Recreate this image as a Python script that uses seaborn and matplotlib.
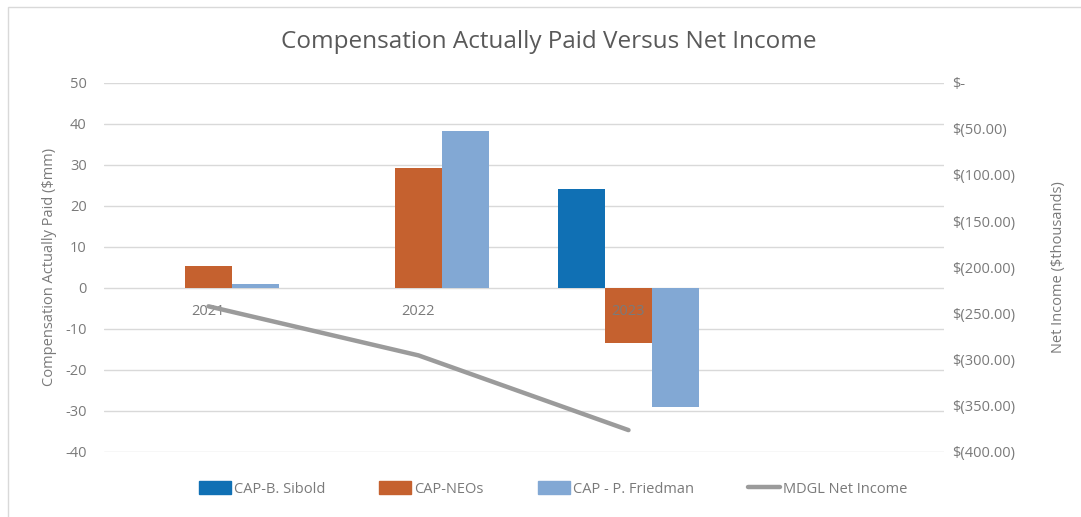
import matplotlib
matplotlib.use("Agg")
import matplotlib.pyplot as plt
import matplotlib.ticker as mticker
from matplotlib.patches import Rectangle
from matplotlib.lines import Line2D
import seaborn as sns
import pandas as pd
import numpy as np

years = ["2021", "2022", "2023"]
cap_sibold = [0.0, 0.0, 24.0]
cap_neos = [5.3, 29.3, -13.4]
cap_friedman = [0.8, 38.1, -29.1]
net_income = [-242.4, -295.6, -376.6]
series_names = ["CAP-B. Sibold", "CAP-NEOs", "CAP - P. Friedman"]
line_name = "MDGL Net Income"
colors = ["#1070B4", "#C5612F", "#82A8D4"]
line_color = "#9B9B9B"
text_color = "#7A7A7A"

sns.set_theme(style="white")
plt.rcParams["font.family"] = ["Open Sans", "DejaVu Sans"]
plt.rcParams["axes.unicode_minus"] = False

df = pd.DataFrame({
    "year": years * 3,
    "series": sum([[s] * 3 for s in series_names], []),
    "value": cap_sibold + cap_neos + cap_friedman,
})

fig = plt.figure(figsize=(10.81, 5.17), dpi=100)
ax = fig.add_axes([103.5 / 1081, 1 - 451.7 / 517, 840 / 1081, 369 / 517])

sns.barplot(data=df, x="year", y="value", hue="series", order=years,
            hue_order=series_names, palette=colors, width=0.67, gap=0,
            linewidth=0, saturation=1, ax=ax, legend=False, zorder=2)

ax.set_xlim(-0.5, 3.5)
ax.set_ylim(-40, 50)
ax.set_yticks(np.arange(-40, 51, 10))
ax.yaxis.grid(True, color="#D9D9D9", linewidth=1)
ax.set_axisbelow(True)
for s in ax.spines.values():
    s.set_visible(False)
ax.tick_params(axis="x", length=0, labelbottom=False)
ax.tick_params(axis="y", length=0, pad=12, labelsize=10.5, labelcolor=text_color)
ax.set_xlabel("")
ax.set_ylabel("Compensation Actually Paid ($mm)", color=text_color, fontsize=10.5, labelpad=6)

ax2 = ax.twinx()
sns.lineplot(x=np.arange(len(years)), y=net_income, ax=ax2, color=line_color,
             linewidth=3.2, zorder=3)
ax2.set_ylim(-400, 0)
ax2.set_yticks(np.arange(-400, 1, 50))

def fmt(v, pos):
    if abs(v) < 1e-9:
        return "$-"
    return "$({:.2f})".format(abs(v))

ax2.yaxis.set_major_formatter(mticker.FuncFormatter(fmt))
ax2.tick_params(axis="y", length=0, pad=6, labelsize=10.5, labelcolor=text_color)
for s in ax2.spines.values():
    s.set_visible(False)
ax2.set_ylabel("Net Income ($thousands)", color=text_color, fontsize=10.5, labelpad=26)
ax2.grid(False)

# category labels sit at the zero line of the left axis, drawn above the bars
ax2.xaxis.set_visible(True)
ax2.spines["bottom"].set_position(("axes", 40 / 90))
ax2.set_xticks(np.arange(len(years)))
ax2.set_xticklabels(years)
ax2.set_xlim(-0.5, 3.5)
ax2.tick_params(axis="x", length=0, pad=12, labelbottom=True, labelsize=10.5,
                labelcolor=text_color)

fig.text(549 / 1081, 1 - 42 / 517, "Compensation Actually Paid Versus Net Income",
         ha="center", va="center", fontsize=17.5, color="#595959")

handles = [Rectangle((0, 0), 1, 1, color=c) for c in colors]
handles.append(Line2D([0], [0], color=line_color, linewidth=3.2))
fig.legend(handles, series_names + [line_name], loc="center", ncol=4,
           bbox_to_anchor=(553 / 1081, 1 - 489 / 517), frameon=False,
           fontsize=10.5, labelcolor=text_color, handlelength=2.2,
           handleheight=0.9, handletextpad=0.2, columnspacing=3.7)

fig.patches.append(Rectangle((8 / 1081, -0.1), 1.2, 1 - 7 / 517 + 0.1,
                             transform=fig.transFigure, fill=False,
                             edgecolor="#D9D9D9", linewidth=1))

fig.savefig("out.png", dpi=100)
